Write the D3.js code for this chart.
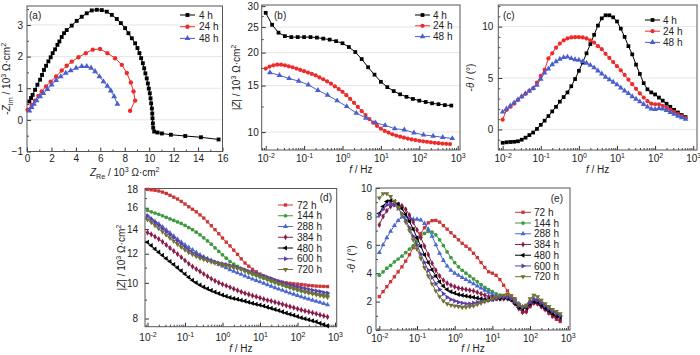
<!DOCTYPE html>
<html><head><meta charset="utf-8">
<script src="https://cdn.jsdelivr.net/npm/d3@7"></script>
<style>
body{margin:0;background:#fff}
svg{display:block}
text{font-family:"Liberation Sans",Arial,sans-serif;fill:#222}
</style>
</head><body>
<svg id="chart" width="700" height="355"></svg>
<script>
// ---------------- DATA ----------------
const shortLabels = ["4 h", "24 h", "48 h"];
const longLabels = ["72 h", "144 h", "288 h", "384 h", "480 h", "600 h", "720 h"];
const xTicksNyq = [0, 2, 4, 6, 8, 10, 12, 14, 16];
const yTicksNyq = [-1, 0, 1, 2, 3];
const yTicksB = [10, 15, 20, 25, 30];
const yTicksC = [0, 5, 10];
const yTicksD = [8, 10, 12, 14, 16, 18];
const yTicksE = [0, 2, 4, 6, 8, 10];
const logTicks = [0.01, 0.1, 1, 10, 100, 1000];

// Nyquist (Z_Re, -Z_Im) in 10^3 ohm cm2
const nyq4h = [[0.19,0.58],[0.33,0.69],[0.46,0.79],[0.66,0.95],[0.85,1.11],[1.07,1.27],[1.23,1.42],[1.39,1.58],[1.56,1.71],[1.75,1.85],[1.94,1.98],[2.1,2.11],[2.3,2.23],[2.49,2.37],[2.65,2.48],[2.84,2.62],[3.03,2.74],[3.25,2.84],[3.66,2.98],[4.07,3.13],[4.48,3.26],[4.89,3.37],[5.3,3.46],[5.71,3.48],[6.12,3.47],[6.53,3.42],[6.94,3.32],[7.35,3.19],[7.68,3.06],[8.03,2.9],[8.3,2.74],[8.58,2.58],[8.85,2.42],[9.04,2.27],[9.2,2.11],[9.34,1.95],[9.48,1.79],[9.59,1.63],[9.69,1.47],[9.8,1.31],[9.89,1.15],[9.97,0.99],[10.05,0.84],[10.11,0.68],[10.16,0.52],[10.22,0.36],[10.25,0.2],[10.27,0.05],[10.3,-0.11],[10.33,-0.25],[10.41,-0.37],[10.68,-0.40],[11.04,-0.43],[11.78,-0.47],[12.95,-0.51],[14.24,-0.55],[15.68,-0.62]];
const nyq24h = [[0.05,0.32],[0.38,0.47],[0.65,0.61],[0.93,0.76],[1.2,0.9],[1.56,1.06],[1.94,1.21],[2.38,1.37],[2.84,1.56],[3.25,1.71],[3.66,1.84],[4.21,1.98],[4.81,2.11],[5.38,2.22],[5.98,2.24],[6.58,2.11],[7.21,1.95],[7.76,1.74],[8.17,1.48],[8.5,1.18],[8.72,0.9],[8.85,0.61],[8.44,0.29]];
const nyq48h = [[0.19,0.29],[0.38,0.40],[0.57,0.5],[0.79,0.61],[1.07,0.74],[1.34,0.84],[1.67,0.97],[2.02,1.11],[2.38,1.25],[2.76,1.37],[3.17,1.48],[3.58,1.56],[4.02,1.64],[4.48,1.69],[4.89,1.69],[5.25,1.64],[5.57,1.53],[5.93,1.37],[6.26,1.21],[6.58,1.07],[6.86,0.92],[7.13,0.74],[7.4,0.5]];

// frequency lists (Hz)
const freqDense = [0.01,0.01259,0.01585,0.01995,0.02512,0.03162,0.03981,0.05012,0.0631,0.07943,0.1,0.1259,0.1585,0.1995,0.2512,0.3162,0.3981,0.5012,0.631,0.7943,1,1.259,1.585,1.995,2.512,3.162,3.981,5.012,6.31,7.943,10,12.59,15.85,19.95,25.12,31.62,39.81,50.12,63.1,79.43,100,125.9,158.5,199.5,251.2,316.2,398.1,501.2,631];
const freq6 = [0.01,0.01468,0.02154,0.03162,0.04642,0.06813,0.1,0.1468,0.2154,0.3162,0.4642,0.6813,1,1.468,2.154,3.162,4.642,6.813,10,14.68,21.54,31.62,46.42,68.13,100,146.8,215.4,316.2,464.2,681.3];
const freq4 = [0.01288,0.02291,0.04074,0.07244,0.1288,0.2291,0.4074,0.7244,1.288,2.291,4.074,7.244,12.88,22.91,40.74,72.44,128.8,229.1,407.4,724.4];

// |Z| (10^3 ohm cm2), panel (b)
const modZ4h = [28.3,25.5,23.8,23.1,22.9,22.9,22.9,22.9,22.8,22.6,22.4,22.1,21.7,21.0,20.1,18.9,17.6,16.5,15.5,14.8,14.3,13.9,13.6,13.35,13.15,13.0,12.85,12.75,12.65,12.6];
const modZ24h = [17.4,17.7,17.9,18.0,18.0,17.9,17.75,17.6,17.4,17.2,17.0,16.8,16.6,16.4,16.1,15.85,15.55,15.25,14.9,14.55,14.2,13.8,13.35,12.9,12.45,12.0,11.6,11.2,10.85,10.55,10.3,10.1,9.95,9.8,9.7,9.6,9.52,9.45,9.38,9.32,9.26,9.22,9.18,9.14,9.1,9.07,9.04,9.02,9.0];
const modZ48h = [16.8,16.4,15.96,15.6,15.1,14.4,13.8,13.15,12.5,11.8,11.3,10.85,10.6,10.3,10.2,9.94,9.75,9.66,9.55,9.46];

// -theta (deg), panel (c)
const phase4h = [-1.3,-1.25,-1.22,-1.2,-1.15,-1.0,-0.8,-0.55,-0.3,0.05,0.45,0.85,1.3,1.75,2.2,2.7,3.15,3.6,4.2,4.9,5.7,6.5,7.4,8.3,9.2,10.1,10.8,11.1,11.1,10.9,10.5,9.8,9.0,8.1,7.3,6.3,5.4,4.5,3.9,3.6,3.4,3.1,2.8,2.5,2.2,1.9,1.65,1.4,1.2];
const phase24h = [0.95,1.9,2.2,2.5,2.85,3.2,3.45,3.75,4.0,4.55,5.2,5.8,6.9,7.4,7.95,8.35,8.65,8.85,8.95,8.97,8.97,8.95,8.85,8.65,8.45,8.1,7.8,7.35,6.95,6.55,6.15,5.75,5.3,4.85,4.4,3.95,3.5,3.1,2.75,2.5,2.45,2.45,2.3,2.1,1.9,1.7,1.5,1.3,1.1];
const phase48h = [1.7,2.0,2.3,2.6,2.9,3.2,3.5,3.75,4.0,4.3,4.9,5.5,5.9,6.3,6.6,6.85,7.0,7.05,6.9,6.8,6.75,6.6,6.45,6.25,6.0,5.7,5.4,5.1,4.85,4.6,4.35,4.05,3.75,3.5,3.2,2.95,2.7,2.45,2.2,2.0,1.95,2.05,2.0,1.85,1.65,1.5,1.3,1.15,1.0];

// |Z| (10^3 ohm cm2), panel (d)
const modZ72h = [17.95,17.9,17.85,17.77,17.65,17.5,17.3,17.1,16.9,16.65,16.38,16.1,15.85,15.6,15.3,15.0,14.65,14.3,13.95,13.6,13.24,12.9,12.6,12.27,11.95,11.62,11.32,11.1,10.88,10.72,10.56,10.44,10.32,10.23,10.15,10.09,10.04,10.0,9.97,9.94,9.92,9.9,9.87,9.84,9.82,9.8,9.79,9.78,9.77];
const modZ144h = [15.75,15.6,15.48,15.36,15.22,15.07,14.92,14.78,14.64,14.5,14.32,14.14,13.95,13.73,13.51,13.26,13.0,12.74,12.45,12.17,11.92,11.67,11.43,11.24,11.08,10.92,10.78,10.66,10.56,10.47,10.38,10.29,10.2,10.1,10.01,9.93,9.86,9.78,9.71,9.64,9.57,9.51,9.46,9.41,9.37,9.33,9.3,9.27,9.24];
const modZ288h = [15.2,14.93,14.7,14.47,14.2,13.93,13.66,13.4,13.14,12.9,12.68,12.48,12.29,12.1,11.92,11.77,11.64,11.51,11.37,11.24,11.11,10.98,10.85,10.75,10.65,10.55,10.44,10.33,10.24,10.15,10.06,9.97,9.88,9.79,9.7,9.62,9.54,9.46,9.38,9.31,9.24,9.17,9.1,9.03,8.97,8.91,8.85,8.78,8.72];
const modZ384h = [13.7,13.55,13.35,13.15,12.93,12.68,12.43,12.2,11.97,11.74,11.5,11.27,11.07,10.9,10.74,10.57,10.41,10.26,10.13,10.01,9.91,9.82,9.73,9.63,9.54,9.45,9.37,9.3,9.23,9.17,9.1,9.03,8.97,8.92,8.86,8.8,8.74,8.68,8.62,8.56,8.5,8.44,8.39,8.34,8.29,8.24,8.18,8.13,8.08];
const modZ480h = [12.9,12.63,12.36,12.12,11.88,11.65,11.43,11.21,11.0,10.79,10.57,10.36,10.17,10.01,9.87,9.75,9.64,9.54,9.44,9.35,9.27,9.19,9.12,9.07,9.02,8.97,8.92,8.86,8.8,8.75,8.7,8.65,8.59,8.53,8.47,8.41,8.34,8.28,8.22,8.16,8.1,8.04,7.99,7.94,7.89,7.84,7.77,7.7,7.64];
const modZ600h = [15.2,14.9,14.6,14.32,14.04,13.78,13.51,13.26,13.0,12.75,12.5,12.24,12.05,11.92,11.8,11.69,11.58,11.48,11.4,11.33,11.27,11.21,11.15,11.08,11.01,10.94,10.85,10.76,10.68,10.6,10.52,10.44,10.35,10.27,10.18,10.1,10.02,9.94,9.87,9.81,9.76,9.7,9.65,9.6,9.55,9.51,9.47,9.42,9.38];
const modZ720h = [14.85,14.6,14.32,14.04,13.77,13.5,13.24,12.98,12.73,12.5,12.3,12.1,11.95,11.8,11.67,11.58,11.49,11.41,11.33,11.26,11.2,11.14,11.08,11.01,10.95,10.88,10.78,10.69,10.61,10.52,10.44,10.35,10.25,10.15,10.06,9.97,9.89,9.81,9.73,9.66,9.58,9.51,9.45,9.39,9.34,9.29,9.24,9.19,9.14];

// -theta (deg), panel (e)
const phase72h = [2.35,2.7,3.05,3.4,3.75,4.1,4.45,4.85,5.3,5.8,6.3,6.8,7.2,7.55,7.7,7.72,7.6,7.35,7.1,6.85,6.6,6.35,6.1,5.9,5.7,5.4,5.1,4.75,4.4,4.1,4.0,3.85,3.55,3.15,2.75,2.4,2.2,1.75,1.25,1.3,1.65,1.9,1.85,1.65,1.45,1.2,0.95,0.75,0.6];
const phase144h = [3.85,4.1,4.35,4.55,4.8,5.0,5.2,5.45,5.7,5.95,6.25,6.55,6.8,6.95,6.9,6.7,6.35,5.95,5.5,5.1,4.75,4.45,4.2,4.0,3.8,3.6,3.4,3.2,3.0,2.85,2.7,2.55,2.45,2.4,2.35,2.3,2.1,1.85,1.65,1.7,2.0,2.2,2.1,1.9,1.7,1.5,1.3,1.15,1.0];
const phase288h = [5.45,6.0,6.5,6.95,7.35,7.7,7.95,8.0,7.9,7.8,7.8,7.75,7.5,7.1,6.6,6.0,5.4,4.9,4.5,4.2,4.0,3.85,3.7,3.55,3.4,3.25,3.1,2.95,2.8,2.65,2.5,2.4,2.3,2.3,2.3,2.25,2.05,1.85,1.65,1.7,2.0,2.15,2.05,1.85,1.65,1.5,1.3,1.15,1.0];
const phase384h = [7.4,8.0,8.4,8.7,8.85,8.85,8.75,8.5,8.1,7.6,7.05,6.5,5.9,5.3,4.7,4.2,3.8,3.5,3.3,3.15,3.05,2.95,2.9,2.85,2.8,2.75,2.65,2.55,2.45,2.35,2.3,2.25,2.2,2.2,2.2,2.15,1.85,1.5,1.25,1.3,1.7,1.9,1.85,1.65,1.45,1.2,1.0,0.85,0.7];
const phase480h = [8.2,8.7,9.05,9.1,9.05,8.85,8.55,8.15,7.65,7.1,6.5,5.9,5.3,4.75,4.25,3.8,3.4,3.1,2.85,2.7,2.6,2.5,2.45,2.4,2.35,2.3,2.25,2.2,2.15,2.15,2.15,2.2,2.2,2.25,2.25,2.1,1.85,1.6,1.5,1.55,1.85,2.0,1.95,1.75,1.55,1.35,1.15,1.0,0.9];
const phase600h = [8.1,8.5,8.8,8.9,8.8,8.55,8.2,7.75,7.2,6.6,6.0,5.35,4.75,4.2,3.7,3.25,2.85,2.55,2.3,2.15,2.05,1.95,1.9,1.85,1.85,1.9,1.95,2.0,2.05,2.1,2.15,2.2,2.3,2.3,2.3,2.2,1.95,1.7,1.6,1.65,1.95,2.15,2.1,1.9,1.7,1.5,1.3,1.15,1.0];
const phase720h = [9.3,9.6,9.6,9.4,9.05,8.65,8.15,7.6,7.0,6.35,5.7,5.05,4.4,3.8,3.25,2.75,2.35,2.05,1.85,1.75,1.7,1.65,1.6,1.62,1.65,1.7,1.8,1.9,2.0,2.1,2.2,2.3,2.4,2.45,2.5,2.4,2.1,1.8,1.65,1.75,2.2,2.45,2.35,2.1,1.85,1.65,1.45,1.3,1.15];

// ---------------- STYLE ----------------
const FONT = '"Liberation Sans", Arial, sans-serif';
const shortColors = ["#000000", "#ee2a2a", "#4a5fcf"];
const shortShapes = ["square", "circle", "up"];
const longColors = ["#cc3535", "#3d9a3d", "#4968d2", "#8a1c4c", "#000000", "#5b3ea8", "#717134"];
const longShapes = ["square", "circle", "up", "diamond", "left", "right", "down"];

const svg = d3.select("#chart");

function symbolPath(shape, size) {
  const t = {square: d3.symbolSquare, circle: d3.symbolCircle, diamond: d3.symbolDiamond}[shape] || d3.symbolTriangle;
  return d3.symbol().type(t).size(size)();
}
function rot(shape) {
  return {left: -90, right: 90, down: 180}[shape] || 0;
}

function rich(sel, parts, fs) {
  let cur = 0;
  parts.forEach(([s, t]) => {
    const target = t === "sup" ? -0.4 * fs : t === "sub" ? 0.3 * fs : 0;
    const ts = sel.append("tspan").text(s).attr("dy", (target - cur) + "px");
    if (t === "sup" || t === "sub") ts.attr("font-size", (0.72 * fs) + "px");
    if (t === "i") ts.attr("font-style", "italic");
    cur = target;
  });
}

function logLabel(textSel) {
  textSel.each(function(d) {
    const e = Math.round(Math.log10(d));
    const t = d3.select(this);
    t.text(null);
    t.append("tspan").text("10");
    t.append("tspan").text(String(e)).attr("dy", "-4px").attr("font-size", "7px");
  });
}

function logMinor(dom) {
  const out = [];
  for (let k = -3; k <= 3; k++) for (let m = 2; m <= 9; m++) {
    const v = m * Math.pow(10, k);
    if (v > dom[0] && v < dom[1]) out.push(v);
  }
  return out;
}

function panel(p) {
  const x = (p.xlog ? d3.scaleLog() : d3.scaleLinear()).domain(p.xd).range([p.l, p.r]);
  const y = (p.ylog ? d3.scaleLog() : d3.scaleLinear()).domain(p.yd).range([p.b, p.t]);
  const g = svg.append("g");

  if (p.grid) {
    g.selectAll("line.grid").data(p.grid).join("line").attr("class", "grid")
      .attr("x1", p.l).attr("x2", p.r).attr("y1", d => y(d)).attr("y2", d => y(d))
      .attr("stroke", "#dedede").attr("stroke-width", 0.8);
  }

  // minor ticks
  const xMinor = p.xlog ? logMinor(p.xd) : p.xminor;
  const yMinor = p.yminor;
  g.append("g").attr("transform", `translate(0,${p.b})`)
    .call(d3.axisBottom(x).tickValues(xMinor).tickSizeInner(-2).tickSizeOuter(0).tickFormat(""))
    .call(a => a.select(".domain").remove()).attr("color", "#444");
  if (yMinor) g.append("g").attr("transform", `translate(${p.l},0)`)
    .call(d3.axisLeft(y).tickValues(yMinor).tickSizeInner(-2).tickSizeOuter(0).tickFormat(""))
    .call(a => a.select(".domain").remove()).attr("color", "#444");

  // major axes
  const xa = g.append("g").attr("transform", `translate(0,${p.b})`)
    .call(d3.axisBottom(x).tickValues(p.xt).tickSizeInner(-4).tickSizeOuter(0).tickPadding(p.xpad)
      .tickFormat(p.xlog ? (d => "") : d3.format("d")))
    .call(a => a.select(".domain").remove())
    .attr("color", "#333").attr("font-family", FONT).attr("font-size", 10);
  if (p.xlog) logLabel(xa.selectAll(".tick text"));
  xa.selectAll(".tick text").attr("fill", "#222");

  const ya = g.append("g").attr("transform", `translate(${p.l},0)`)
    .call(d3.axisLeft(y).tickValues(p.yt).tickSizeInner(-4).tickSizeOuter(0).tickPadding(p.ypad)
      .tickFormat(d3.format("d")))
    .call(a => a.select(".domain").remove())
    .attr("color", "#333").attr("font-family", FONT).attr("font-size", 10);
  ya.selectAll(".tick text").attr("fill", "#222");

  // frame
  g.append("rect").attr("x", p.l).attr("y", p.t).attr("width", p.r - p.l).attr("height", p.b - p.t)
    .attr("fill", "none").attr("stroke", "#555").attr("stroke-width", 1);

  // series
  p.series.forEach(s => {
    const pts = s.pts;
    g.append("path").datum(pts)
      .attr("d", d3.line().x(d => x(d[0])).y(d => y(d[1])))
      .attr("fill", "none").attr("stroke", s.color).attr("stroke-width", 1);
    g.selectAll(null).data(pts).join("path")
      .attr("d", symbolPath(s.shape, p.msize))
      .attr("transform", d => `translate(${x(d[0])},${y(d[1])}) rotate(${rot(s.shape)})`)
      .attr("fill", s.color);
  });

  // legend
  p.series.forEach((s, i) => {
    const ly = p.leg.y + i * p.leg.dy;
    g.append("line").attr("x1", p.leg.x1).attr("x2", p.leg.x2).attr("y1", ly).attr("y2", ly)
      .attr("stroke", s.color).attr("stroke-width", 1);
    g.append("path").attr("d", symbolPath(s.shape, p.msize))
      .attr("transform", `translate(${(p.leg.x1 + p.leg.x2) / 2},${ly}) rotate(${rot(s.shape)})`)
      .attr("fill", s.color);
    g.append("text").attr("x", p.leg.tx).attr("y", ly).attr("dy", "0.36em")
      .attr("font-size", 10).text(s.label);
  });

  // panel tag
  g.append("text").attr("x", p.tag.x).attr("y", p.tag.y).attr("dy", "0.36em")
    .attr("text-anchor", p.tag.anchor || "start").attr("font-size", 10).text(p.tag.t);

  // axis titles
  const xt = g.append("text").attr("x", (p.l + p.r) / 2).attr("y", p.xtitleY)
    .attr("text-anchor", "middle").attr("font-size", 10);
  rich(xt, p.xtitle, 10);
  const yt = g.append("text").attr("transform", `translate(${p.ytitleX},${(p.t + p.b) / 2}) rotate(-90)`)
    .attr("text-anchor", "middle").attr("font-size", 10);
  rich(yt, p.ytitle, 10);
}

const zip = (f, v) => f.map((d, i) => [d, v[i]]);
const fTitle = [["f", "i"], [" / Hz", ""]];
const zTitle = [["|", ""], ["Z", "i"], ["| / 10", ""], ["3", "sup"], [" Ω·cm", ""], ["2", "sup"]];
const thTitle = [["-", ""], ["θ", "i"], [" / (°)", ""]];

// (a)
panel({
  l: 27, r: 222.5, t: 6, b: 151.5, xd: [0, 16], yd: [-1, 3.6],
  xt: xTicksNyq, yt: yTicksNyq, xminor: [1,3,5,7,9,11,13,15], yminor: [-0.5,0.5,1.5,2.5,3.5],
  grid: [0, 1, 2, 3], xpad: 3, ypad: 4, msize: 15,
  series: [nyq4h, nyq24h, nyq48h].map((d, i) => ({pts: d, color: shortColors[i], shape: shortShapes[i], label: shortLabels[i]})),
  leg: {x1: 180, x2: 195, tx: 199, y: 15, dy: 11.7},
  tag: {x: 29, y: 15, t: "(a)"},
  xtitleY: 175.5, ytitleX: 10,
  xtitle: [["Z", "i"], ["Re", "sub"], [" / 10", ""], ["3", "sup"], [" Ω·cm", ""], ["2", "sup"]],
  ytitle: [["-", ""], ["Z", "i"], ["Im", "sub"], [" / 10", ""], ["3", "sup"], [" Ω·cm", ""], ["2", "sup"]]
});

// (b)
panel({
  l: 261.7, r: 460, t: 5, b: 150, xlog: true, ylog: true,
  xd: [Math.pow(10, -2.104), Math.pow(10, 3.06)], yd: [8.55, 30.3],
  xt: logTicks, yt: yTicksB, yminor: [12.5, 17.5, 22.5, 27.5],
  grid: [10, 15, 20, 25], xpad: 5, ypad: 3, msize: 14,
  series: [zip(freq6, modZ4h), zip(freqDense, modZ24h), zip(freq4, modZ48h)].map((d, i) => ({pts: d, color: shortColors[i], shape: shortShapes[i], label: shortLabels[i]})),
  leg: {x1: 415, x2: 430, tx: 433, y: 15, dy: 10.8},
  tag: {x: 274, y: 15, t: "(b)"},
  xtitleY: 173, ytitleX: 240, xtitle: fTitle, ytitle: zTitle
});

// (c)
panel({
  l: 498.3, r: 697, t: 5, b: 150, xlog: true,
  xd: [Math.pow(10, -2.115), Math.pow(10, 3.1)], yd: [-2, 12.1],
  xt: logTicks, yt: yTicksC, yminor: [-1, 1, 2, 3, 4, 6, 7, 8, 9, 11, 12],
  grid: [0, 5, 10], xpad: 5, ypad: 5, msize: 14,
  series: [phase4h, phase24h, phase48h].map((d, i) => ({pts: zip(freqDense, d), color: shortColors[i], shape: shortShapes[i], label: shortLabels[i]})),
  leg: {x1: 645, x2: 660, tx: 663, y: 20, dy: 11.2},
  tag: {x: 503, y: 15, t: "(c)"},
  xtitleY: 173, ytitleX: 474, xtitle: fTitle, ytitle: thTitle
});

// (d)
panel({
  l: 145, r: 336.7, t: 188.5, b: 326.7, xlog: true, ylog: true,
  xd: [Math.pow(10, -2.067), Math.pow(10, 3.045)], yd: [7.6, 18.05],
  xt: logTicks, yt: yTicksD, yminor: [9, 11, 13, 15, 17],
  xpad: 7, ypad: 7, msize: 11,
  series: [modZ72h, modZ144h, modZ288h, modZ384h, modZ480h, modZ600h, modZ720h].map((d, i) => ({pts: zip(freqDense, d), color: longColors[i], shape: longShapes[i], label: longLabels[i]})),
  leg: {x1: 278, x2: 293, tx: 297, y: 205, dy: 10.75},
  tag: {x: 332, y: 197, t: "(d)", anchor: "end"},
  xtitleY: 352, ytitleX: 125, xtitle: fTitle, ytitle: zTitle
});

// (e)
panel({
  l: 376, r: 570, t: 188, b: 330, xlog: true,
  xd: [Math.pow(10, -2.088), Math.pow(10, 3.06)], yd: [0, 10],
  xt: logTicks, yt: yTicksE, yminor: [1, 3, 5, 7, 9],
  xpad: 5, ypad: 4, msize: 11,
  series: [phase72h, phase144h, phase288h, phase384h, phase480h, phase600h, phase720h].map((d, i) => ({pts: zip(freqDense, d), color: longColors[i], shape: longShapes[i], label: longLabels[i]})),
  leg: {x1: 515, x2: 531, tx: 534, y: 212.3, dy: 10.73},
  tag: {x: 563, y: 198, t: "(e)", anchor: "end"},
  xtitleY: 352, ytitleX: 355, xtitle: fTitle, ytitle: thTitle
});
</script>
</body></html>
